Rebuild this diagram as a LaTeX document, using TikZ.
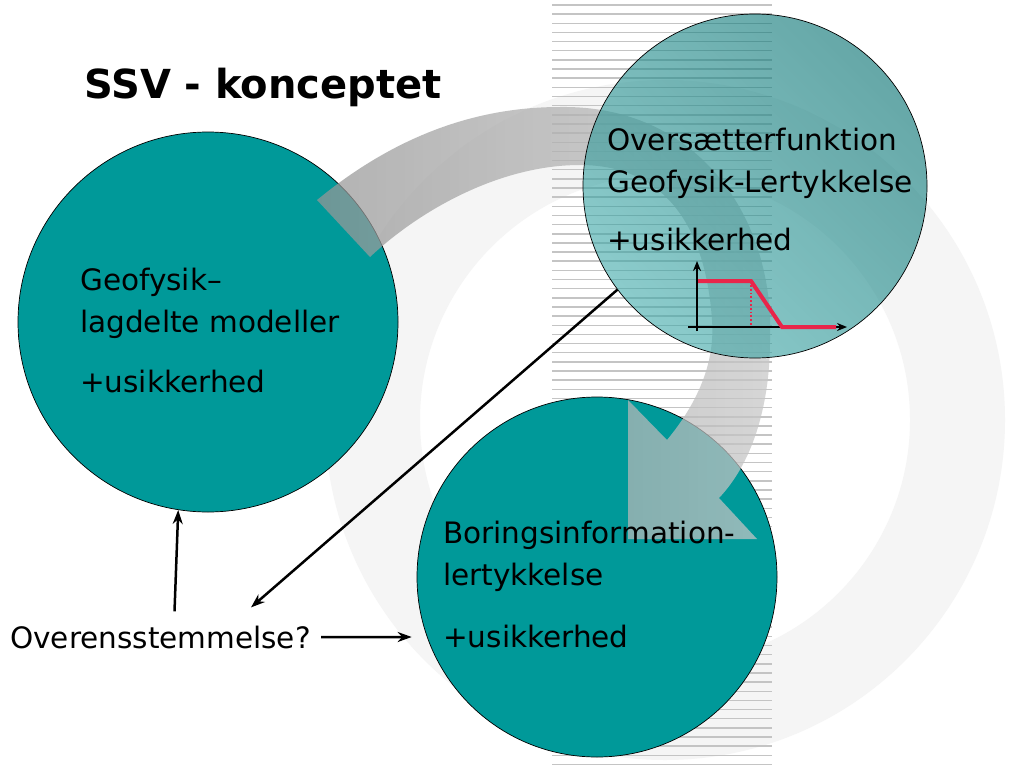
\documentclass[tikz,border=0pt]{standalone}
\usepackage{fontspec}
\setmainfont{DejaVu Sans}
\usetikzlibrary{arrows.meta}

\definecolor{tealc}{RGB}{0,153,153}
\definecolor{ringgray}{RGB}{245,245,245}
\definecolor{stripegray}{RGB}{196,196,196}
\definecolor{arrowdark}{RGB}{150,150,150}
\definecolor{arrowlight}{RGB}{200,200,200}
\definecolor{translight}{RGB}{63,170,170}
\definecolor{transdark}{RGB}{0,110,110}
\definecolor{chartred}{RGB}{232,38,74}

\begin{document}
\begin{tikzpicture}[x=1pt, y=-1pt,
  disc/.style={circle, draw=black, line width=0.7pt, inner sep=0pt},
  body/.style={anchor=north west, inner sep=0pt, align=left, font={\fontsize{29.5}{42}\selectfont}},
  link/.style={-{Stealth[length=14pt, width=10pt]}, line width=2.5pt},
  axis/.style={-{Stealth[length=10pt, width=8pt]}, line width=2.8pt},
  stripe/.style={draw=stripegray, line width=1.5pt}]

\useasboundingbox (0,0) rectangle (1024,768);
\fill[white] (0,0) rectangle (1024,768);

% --- Background ring and stripes ---
\fill[ringgray, even odd rule] (665,420) circle[radius=340] (665,420) circle[radius=245];
\foreach \y in {5,14.15,...,768}
  \draw[stripe] (552,\y) -- (772,\y);

% --- Geophysics and borehole circles ---
\node (geo) [disc, fill=tealc, minimum size=380pt] at (208,322) {};
\node (bore) [disc, fill=tealc, minimum size=360pt] at (597,577) {};

% --- Curved arrow ---
\shade[fill opacity=0.73, left color=arrowdark, right color=arrowlight]
  (317,200) .. controls (390,140) and (470,107) .. (560,107)
  .. controls (700,105) and (775,220) .. (770,340)
  .. controls (770,400) and (755,460) .. (719,498)
  -- (757,539) -- (628,539) -- (628,400) -- (667,440)
  .. controls (700,400) and (715,360) .. (712,320)
  .. controls (705,220) and (660,165) .. (580,165)
  .. controls (500,165) and (420,210) .. (370,257) -- cycle;

% --- Translator circle ---
\node (trans) [disc, top color=transdark, bottom color=translight, shading angle=-45,
  fill opacity=0.6, minimum size=344pt] at (755,186) {};

% --- Texts ---
\node (title) [anchor=base west, inner sep=0pt, font={\fontsize{40}{48}\selectfont\bfseries}] at (84,98) {SSV - konceptet};
\node (geotext) [body] at (80,268) {Geofysik–\\lagdelte modeller\\[18pt]+usikkerhed};
\node (transtext) [body] at (607,128) {Oversætterfunktion\\Geofysik-Lertykkelse\\[16pt]+usikkerhed};
\node (boretext) [body] at (443,521) {Boringsinformation-\\lertykkelse\\[20pt]+usikkerhed};
\node (over) [anchor=base west, inner sep=0pt, font={\fontsize{29.5}{42}\selectfont}] at (10,648) {Overensstemmelse?};

% --- Transfer curve ---
\draw[axis] (697,331) -- (697,261);
\draw[axis] (688,327) -- (847,327);
\draw[chartred, line width=4pt] (698,281) -- (751,281) -- (782,327) -- (836,327);
\draw[chartred, dotted, line width=1.8pt] (751,285) -- (751,326);

% --- Comparison arrows ---
\draw[link] ([xshift=14pt, yshift=14pt]over.north) -- (geo.261);
\draw[link] (trans.217) -- ([xshift=-60pt, yshift=18pt]over.north east);
\draw[link] ([xshift=10pt]over.east) -- ([shift={(-5pt,-60pt)}]bore.west);

\end{tikzpicture}
\end{document}
